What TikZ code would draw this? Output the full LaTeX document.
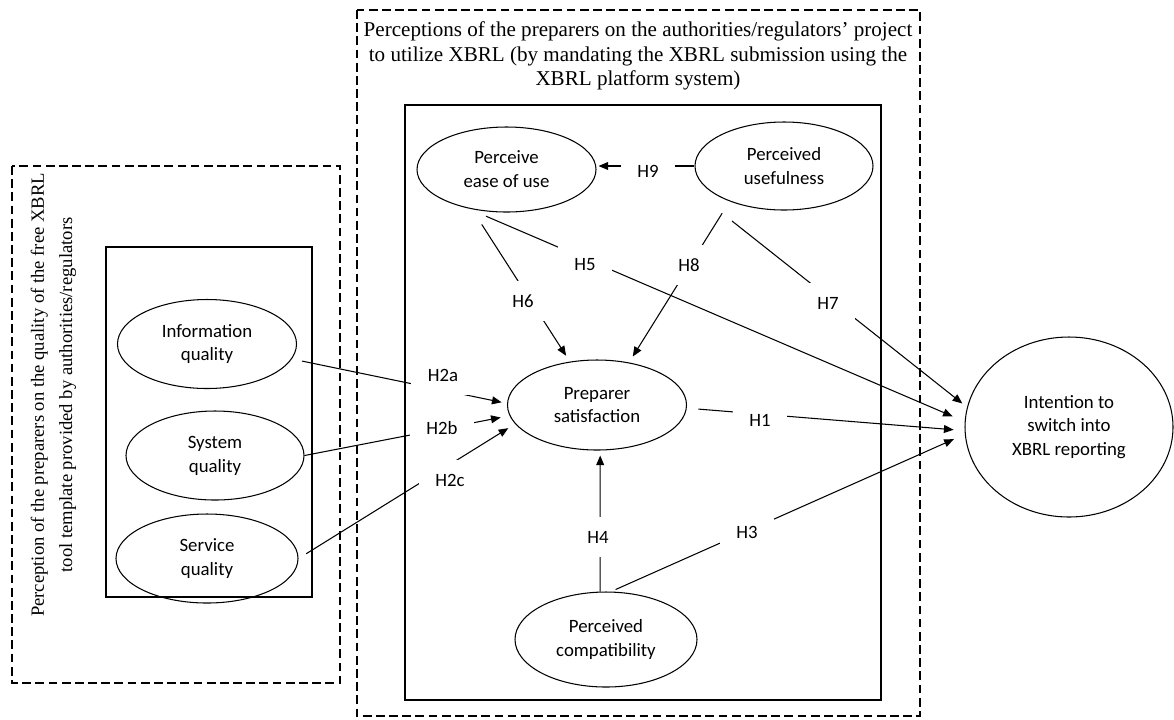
\documentclass[tikz,border=0pt]{standalone}
\usepackage{fontspec}
\setmainfont{Liberation Serif}
\newfontfamily\calibri{Carlito}
\usetikzlibrary{shapes.geometric,arrows.meta}

\tikzset{
  construct/.style={ellipse, draw, line width=0.6pt, inner sep=0pt, align=center,
    font=\calibri\fontsize{10.7}{13.6}\selectfont,
    minimum width=35.8mm, minimum height=17.8mm},
  hyp/.style={fill=white, inner xsep=9.5pt, inner ysep=0pt, minimum height=22.5pt,
    font=\calibri\fontsize{10.7}{13}\selectfont},
  frame/.style={line width=0.6pt},
  dashframe/.style={line width=0.6pt, dash pattern=on 5pt off 2.5pt},
  path/.style={line width=0.6pt, -{Triangle[length=5.5pt,width=4.5pt]}}
}

\begin{document}
\begin{tikzpicture}[x=0.2mm,y=-0.2mm]
  \useasboundingbox (0,0) rectangle (1174,719);
  % frames
  \draw[dashframe] (12,166) rectangle (340,683);
  \draw[frame] (106,247) rectangle (312,597);
  \draw[dashframe] (357,10) rectangle (920,716);
  \draw[frame] (405,105) rectangle (881,700);
  \node[rotate=90, align=center, font=\fontsize{10.6}{16}\selectfont] (qualtitle) at (53.5,395)
    {Perception of the preparers on the quality of the free XBRL\\tool template provided by authorities/regulators};
  \node[align=center, font=\fontsize{12}{13.9}\selectfont] (projtitle) at (638,56)
    {Perceptions of the preparers on the authorities/regulators' project\\to utilize XBRL (by mandating the XBRL submission using the\\XBRL platform system)};

  % constructs
  \node[construct] (info) at (207,344) {Information\\quality};
  \node[construct, minimum width=35.6mm] (sysq) at (215,455.5) {System\\quality};
  \node[construct, minimum width=36.4mm] (servq) at (207,558.5) {Service\\quality};
  \node[construct, minimum height=17mm] (peou) at (506.5,169.5) {Perceive\\ease of use};
  \node[construct, minimum width=35.6mm, minimum height=17.6mm] (pu) at (784,166) {Perceived\\usefulness};
  \node[construct, minimum height=18mm] (sat) at (597,405) {Preparer\\satisfaction};
  \node[construct, minimum width=36.4mm, minimum height=19mm] (comp) at (606,639.5) {Perceived\\compatibility};
  \node[construct, minimum width=41.6mm, minimum height=36mm] (intent) at (1069,427) {Intention to\\switch into\\XBRL reporting};

  % hypotheses
  \draw[path, shorten <=2.1mm, shorten >=1.1mm] (info.-10) -- (sat.179);
  \draw[path, shorten >=1.8mm] (sysq.east) -- (sat.187);
  \draw[path, shorten <=1.8mm, shorten >=1.6mm] (servq.east) -- (sat.193);
  \draw[path, shorten <=3.6mm, shorten >=1.4mm] (peou.-131) -- (sat.122);
  \draw[path, shorten <=4mm, shorten >=2.6mm] (peou.-135) -- (intent.177);
  \draw[path, shorten <=2.8mm, shorten >=1.4mm] (pu.-147) -- (sat.53);
  \draw[path, shorten >=1.2mm] ([shift={(-52,55)}]pu.center) -- (intent.169);
  \draw[path, shorten >=0.4mm] (pu.west) -- (pu.west -| peou.east);
  \draw[path, shorten <=2.3mm, shorten >=2.2mm] (sat.-2) -- (intent.182);
  \draw[path, shorten >=1mm] (comp.97) -- (sat.-86);
  \draw[path, shorten <=1mm, shorten >=2.4mm] (comp.84) -- (intent.184.5);

  \foreach \n/\x/\y/\t in {h9/648/171/H9, h5/585/265/H5, h8/689/265/H8, h6/523/301/H6,
      h7/828/303/H7, h2a/443/375/H2a, h2b/442/428/H2b, h2c/450/480/H2c,
      h1/760/420/H1, h4/598/537/H4, h3/747/532/H3}
    \node[hyp] (\n) at (\x,\y) {\t};
\end{tikzpicture}
\end{document}
